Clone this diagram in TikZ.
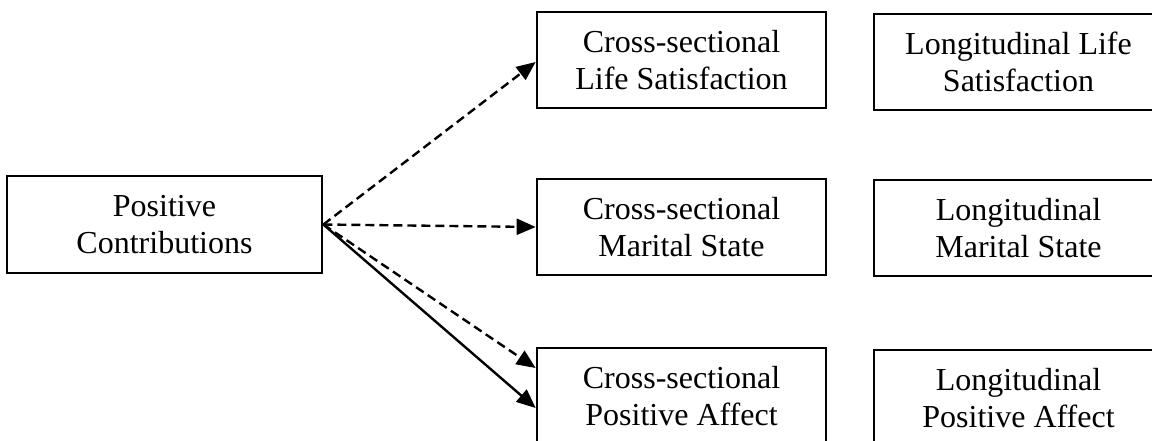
\documentclass[tikz,border=0pt]{standalone}
\usepackage{fontspec}
\setmainfont{Liberation Serif}
\usetikzlibrary{arrows.meta}

\tikzset{
  boxnode/.style={draw, line width=2.7pt, rectangle, align=center,
    minimum width=289pt, minimum height=96pt, inner sep=0pt,
    font=\fontsize{32}{37}\selectfont},
  linkhead/.style={-{Triangle[length=19pt,width=16pt]}},
  dashlink/.style={linkhead, line width=2.4pt, dash pattern=on 9pt off 5pt},
  solidlink/.style={linkhead, line width=2.4pt}
}

\begin{document}
\begin{tikzpicture}[x=1pt, y=-1pt]
  \useasboundingbox (0,0) rectangle (1152,441);
  \clip (0,0) rectangle (1152,441);

  % source construct
  \node[boxnode, minimum width=315pt, minimum height=97pt] (pc) at (164.5,224.5)
    {Positive\\Contributions};

  % cross-sectional outcomes
  \node[boxnode] (cls) at (681.5,60)  {Cross-sectional\\Life Satisfaction};
  \node[boxnode] (cms) at (681.5,227) {Cross-sectional\\Marital State};
  \node[boxnode] (cpa) at (681.5,396) {Cross-sectional\\Positive Affect};

  % longitudinal outcomes
  \node[boxnode] (lls) at (1018.5,62)  {Longitudinal Life\\Satisfaction};
  \node[boxnode] (lms) at (1018.5,228) {Longitudinal\\Marital State};
  \node[boxnode] (lpa) at (1018.5,398) {Longitudinal\\Positive Affect};

  % paths
  \draw[dashlink]  (pc.east) -- ([yshift=-2pt]cls.west);
  \draw[dashlink]  (pc.east) -- (cms.west);
  \draw[dashlink]  (pc.east) -- ([yshift=28pt]cpa.west);
  \draw[solidlink] (pc.east) -- ([yshift=-12pt]cpa.west);
\end{tikzpicture}
\end{document}
